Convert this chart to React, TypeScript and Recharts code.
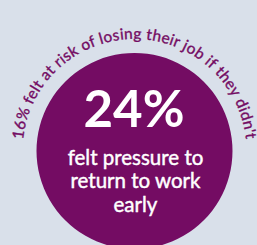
import { PieChart, Pie, Cell, Label } from 'recharts';

const shares = [{ name: 'felt pressure to return to work early', value: 24 }];
const headline = '24%';
const captionLines = ['felt pressure to', 'return to work', 'early'];
const arcText = "16% felt at risk of losing their job if they didn't";

const BG = '#d9e0ea';
const PURPLE = '#740c63';
const CX = 134.5;
const CY = 151;
const R = 98;
const ARC_R = 112;
const ARC_FROM = 175;
const ARC_TO = 5;

const pt = (deg: number, r: number) => {
  const a = (deg * Math.PI) / 180;
  return [CX + r * Math.cos(a), CY - r * Math.sin(a)];
};

const CenterText = () => (
  <g>
    <text
      x={134}
      y={127}
      textAnchor="middle"
      fontFamily="Lato"
      fontWeight={700}
      fontSize={51}
      fill="#ffffff"
    >
      {headline}
    </text>
    {captionLines.map((line, i) => (
      <text
        key={line}
        x={135.5}
        y={165 + i * 23.3}
        textAnchor="middle"
        fontFamily="Lato"
        fontSize={20.5}
        fill="#ffffff"
        stroke="#ffffff"
        strokeWidth={0.45}
      >
        {line}
      </text>
    ))}
  </g>
);

const App = () => {
  const [x1, y1] = pt(ARC_FROM, ARC_R);
  const [x2, y2] = pt(ARC_TO, ARC_R);
  const arcPath = `M ${x1} ${y1} A ${ARC_R} ${ARC_R} 0 0 1 ${x2} ${y2}`;

  return (
    <div style={{ position: 'fixed', left: 0, top: 0, width: 257, height: 245, background: BG }}>
      <PieChart width={257} height={245} margin={{ top: 0, right: 0, bottom: 0, left: 0 }}>
        <defs>
          <path id="arcPath" d={arcPath} fill="none" />
        </defs>
        <Pie
          data={shares}
          dataKey="value"
          cx={CX}
          cy={CY}
          innerRadius={0}
          outerRadius={R}
          startAngle={90}
          endAngle={-270}
          stroke="none"
          isAnimationActive={false}
        >
          {shares.map((s) => (
            <Cell key={s.name} fill={PURPLE} />
          ))}
          <Label position="center" content={() => <CenterText />} />
        </Pie>
        <text
          fontFamily="Lato"
          fontSize={15.5}
          fill={PURPLE}
          stroke={PURPLE}
          strokeWidth={0.35}
          letterSpacing={0.3}
        >
          <textPath href="#arcPath" startOffset="50%" textAnchor="middle">
            {arcText}
          </textPath>
        </text>
      </PieChart>
    </div>
  );
};

export default App;
